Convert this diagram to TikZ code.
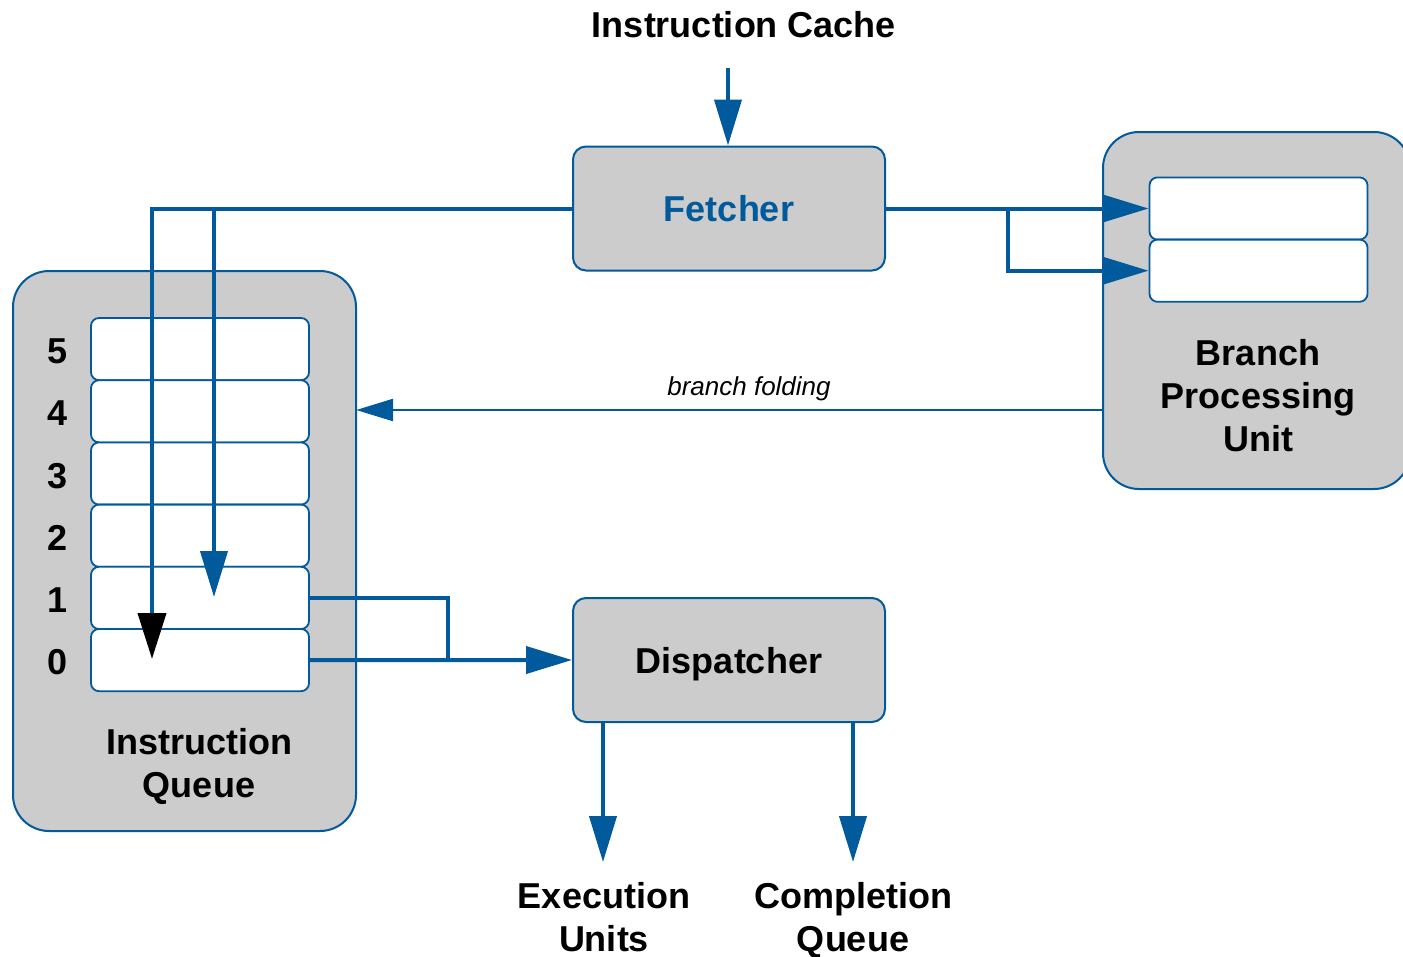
\documentclass[tikz,border=0pt]{standalone}
\usepackage{fontspec}
\setmainfont{Liberation Sans}
\usetikzlibrary{arrows.meta}
\definecolor{pblue}{RGB}{0,90,156}
\definecolor{pgray}{RGB}{204,204,204}
\begin{document}
\begin{tikzpicture}[x=1pt,y=-1pt,
  font=\fontsize{36}{43}\selectfont\bfseries,
  unit/.style={draw=pblue,fill=pgray,line width=2pt,rounded corners=13pt,
    minimum width=312pt,minimum height=124pt,inner sep=0pt,text depth=0pt},
  outerbox/.style={draw=pblue,fill=pgray,line width=2pt,rounded corners=36pt},
  slot/.style={draw=pblue,fill=white,line width=1.8pt,rounded corners=8pt,
    minimum width=218pt,minimum height=62.2pt,inner sep=0pt},
  label/.style={inner sep=0pt,align=center,text depth=0pt},
  wire/.style={draw=pblue,line width=4pt},
  thinwire/.style={draw=pblue,line width=2.6pt},
  tip/.style={-{Triangle[length=46pt,width=27pt]}},
  smalltip/.style={-{Triangle[length=37pt,width=22pt]}},
  blacktip/.style={-{Triangle[length=46pt,width=28pt,color=black]}}
]
\useasboundingbox (0,0) rectangle (1403,956);

% outer containers
\path[outerbox] (13,271) rectangle (356,831);
\node[inner sep=0pt,minimum width=343pt,minimum height=560pt] (queue) at (184.5,551) {};
\path[outerbox] (1103,132) rectangle (1410,489);
\node[inner sep=0pt,minimum width=307pt,minimum height=357pt] (bpu) at (1256.5,310.5) {};

% fetcher and dispatcher
\node[unit,text=pblue] (fetch) at (729,208.5) {Fetcher};
\node[unit] (disp) at (729,660) {Dispatcher};

% instruction queue entries
\foreach \i/\y in {5/349.1,4/411.3,3/473.5,2/535.7,1/597.9,0/660.1}{
  \node[slot] (q\i) at (200,\y) {};
  \node[label] (n\i) at (58,\y+2) {\i};
}
\node[label] (qlabel) at (199,763) {Instruction\\Queue};

% branch processing unit entries
\node[slot] (b1) at (1258.5,208.5) {};
\node[slot] (b2) at (1258.5,270.7) {};
\node[label] (blabel) at (1258,395) {Branch\\Processing\\Unit};

% outside labels
\node[label] (cache) at (744,24) {Instruction Cache};
\node[label] (exec) at (604,917) {Execution\\Units};
\node[label] (compl) at (853,917) {Completion\\Queue};
\node[label,font=\fontsize{26}{30}\selectfont\itshape] (bflabel) at (749,386) {branch folding};

% connection points
\coordinate (cin) at (728,68);
\coordinate (ta) at (152,659);
\coordinate (tb) at (214,597);
\coordinate (jq) at (448,659);
\coordinate (jb) at (1008,207);
\coordinate (ex) at (603,862);
\coordinate (cq) at (853,862);
\coordinate (bfy) at (0,410);

% connectors
\draw[wire,tip] (cin) -- (fetch.north -| cin);
\draw[wire,line cap=rect] (fetch.west) -- (ta |- fetch.west);
\draw[wire,tip] (tb |- fetch.west) -- (tb);
\draw[wire,blacktip] (ta |- fetch.west) -- (ta);
\draw[wire,tip] (fetch.east) -- (b1.west);
\draw[wire,tip] (jb |- fetch.east) |- (b2.west);
\draw[wire] (q1.east) -| (jq);
\draw[wire,tip] (q0.east) -- (disp.west);
\draw[wire,tip] (disp.south -| ex) -- (ex);
\draw[wire,tip] (disp.south -| cq) -- (cq);
\draw[thinwire,smalltip] (bpu.west |- bfy) -- (queue.east |- bfy);
\end{tikzpicture}
\end{document}
